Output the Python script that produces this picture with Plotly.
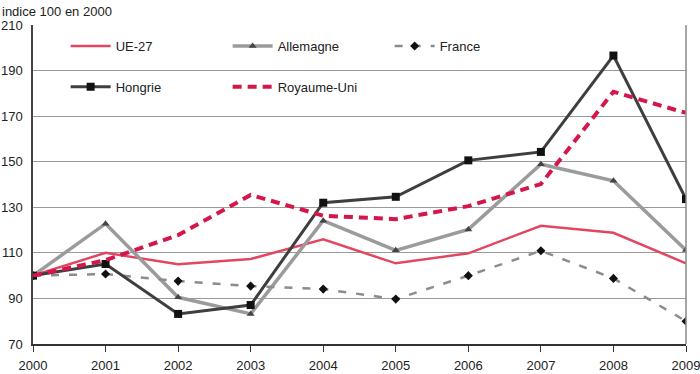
import plotly.graph_objects as go

years = [2000, 2001, 2002, 2003, 2004, 2005, 2006, 2007, 2008, 2009]
ue27 = [100, 110, 105, 107.3, 115.9, 105.4, 109.8, 121.9, 118.8, 105.4]
allemagne = [100, 122.8, 90.5, 83.2, 124.1, 111.1, 120.3, 148.9, 141.6, 111.2]
france = [100, 100.7, 97.6, 95.4, 94.1, 89.7, 100, 110.9, 98.8, 80]
hongrie = [100, 105.1, 83.2, 87.1, 132, 134.6, 150.6, 154.3, 196.6, 133.6]
royaume_uni = [100, 106.8, 117.8, 135.4, 126.3, 124.8, 130.5, 140.2, 180.7, 171.4]
y_ticks = [70, 90, 110, 130, 150, 170, 190, 210]

FONT = "Liberation Sans Narrow, Liberation Sans, Arial, sans-serif"

fig = go.Figure()
fig.add_trace(go.Scatter(x=years, y=ue27, name="UE-27", mode="lines",
                         line=dict(color="#e04862", width=2.5), legend="legend"))
fig.add_trace(go.Scatter(x=years, y=allemagne, name="Allemagne", mode="lines+markers",
                         line=dict(color="#9b9b9b", width=3.5),
                         marker=dict(symbol="triangle-up", size=7, color="#444444"), legend="legend"))
fig.add_trace(go.Scatter(x=years, y=france, name="France", mode="lines+markers",
                         line=dict(color="#8c8c8c", width=2.5, dash="8px,10px"),
                         marker=dict(symbol="diamond", size=7, color="#111111"), legend="legend"))
fig.add_trace(go.Scatter(x=years, y=hongrie, name="Hongrie", mode="lines+markers",
                         line=dict(color="#3e3e3e", width=3),
                         marker=dict(symbol="square", size=8, color="#111111"), legend="legend2"))
fig.add_trace(go.Scatter(x=years, y=royaume_uni, name="Royaume-Uni", mode="lines",
                         line=dict(color="#d4164a", width=4, dash="9px,6px"), legend="legend2"))

leg_common = dict(orientation="h", xanchor="left", yanchor="middle", entrywidth=107,
                  entrywidthmode="pixels", bgcolor="rgba(0,0,0,0)",
                  font=dict(family=FONT, size=13, color="#222222"), itemwidth=40)
fig.update_layout(
    width=700, height=374,
    margin=dict(l=33, r=14, t=25, b=30, autoexpand=False),
    paper_bgcolor="white", plot_bgcolor="white",
    font=dict(family=FONT, size=13, color="#222222"),
    showlegend=True,
    legend=dict(x=0.05, y=0.934, **leg_common),
    legend2=dict(x=0.05, y=0.806, **leg_common),
    xaxis=dict(range=[2000, 2009], tickmode="array", tickvals=years,
               ticktext=[str(y) for y in years], showgrid=False, automargin=False,
               showline=True, linecolor="#333333", linewidth=1.5,
               ticks="outside", ticklen=6, tickcolor="#333333", ticklabeloverflow="allow",
               ticklabelstandoff=3,
               tickfont=dict(family=FONT, size=13, color="#222222"), zeroline=False),
    yaxis=dict(range=[70, 210], tickmode="array", tickvals=y_ticks, automargin=False,
               showgrid=True, gridcolor="#9a9a9a", gridwidth=1,
               showline=True, linecolor="#444444", linewidth=1.5,
               ticks="", ticklabelstandoff=6, ticklabeloverflow="allow",
               tickfont=dict(family=FONT, size=13, color="#222222"), zeroline=False),
    annotations=[dict(text="indice 100 en 2000", xref="paper", yref="paper", x=-0.05, y=1.0,
                      xanchor="left", yanchor="bottom", yshift=4, showarrow=False,
                      font=dict(family=FONT, size=13, color="#222222"))],
    shapes=[dict(type="line", xref="paper", yref="paper", x0=1, x1=1, y0=0, y1=1,
                 line=dict(color="#8a8a8a", width=1.5))],
)
fig.write_html("out.html", config={"displayModeBar": False},
               post_script="document.body.style.margin='0';document.body.style.overflow='hidden';")
